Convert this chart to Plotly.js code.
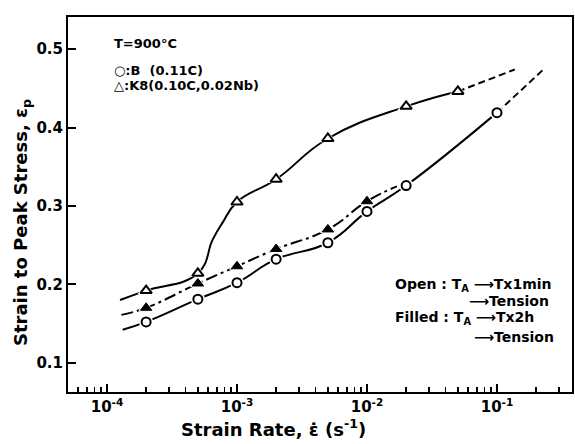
<!DOCTYPE html>
<html>
<head>
<meta charset="utf-8">
<script src="https://cdn.plot.ly/plotly-3.0.1.min.js"></script>
<style>html,body{margin:0;padding:0;background:#fff}#chart{width:575px;height:444px}</style>
</head>
<body>
<div id="chart"></div>
<script>
// ---- data ----
// B (0.11C), open circles: T_A -> T x 1min -> tension
const rateB = [2e-4, 5e-4, 1e-3, 2e-3, 5e-3, 1e-2, 2e-2, 1e-1];
const epsB  = [0.152, 0.181, 0.202, 0.232, 0.253, 0.293, 0.326, 0.419];
// K8 (0.10C,0.02Nb), open triangles: 1 min hold
const rateK8open = [2e-4, 5e-4, 1e-3, 2e-3, 5e-3, 2e-2, 5e-2];
const epsK8open  = [0.192, 0.214, 0.305, 0.334, 0.386, 0.427, 0.446];
// K8, filled triangles: 2 h hold
const rateK8fill = [2e-4, 5e-4, 1e-3, 2e-3, 5e-3, 1e-2];
const epsK8fill  = [0.170, 0.201, 0.223, 0.245, 0.270, 0.306];

// hand-drawn fitting curves (nodes)
const curveK8openX = [1.26e-4, 2e-4, 5e-4, 6.5e-4, 7.7e-4, 1e-3, 2e-3, 5e-3, 2e-2, 5e-2];
const curveK8openY = [0.180, 0.192, 0.214, 0.257, 0.278, 0.305, 0.334, 0.386, 0.427, 0.446];
const extK8openX = [5e-2, 1.37e-1];
const extK8openY = [0.446, 0.474];
const curveBX = [1.32e-4, 2e-4, 5e-4, 1e-3, 2e-3, 5e-3, 1e-2, 2e-2, 1e-1];
const curveBY = [0.142, 0.152, 0.181, 0.202, 0.232, 0.253, 0.293, 0.326, 0.419];
const extBX = [1e-1, 2.34e-1];
const extBY = [0.419, 0.476];
const curveK8fillX = [1.29e-4, 2e-4, 5e-4, 1e-3, 2e-3, 5e-3, 1e-2, 1.7e-2];
const curveK8fillY = [0.161, 0.170, 0.201, 0.223, 0.245, 0.270, 0.306, 0.325];

const yTicks = [0.1, 0.2, 0.3, 0.4, 0.5];
const yTickText = ['0.1', '0.2', '0.3', '0.4', '0.5'];
const xTicks = [1e-4, 1e-3, 1e-2, 1e-1];
const xTickText = ['10<sup>-4</sup>', '10<sup>-3</sup>', '10<sup>-2</sup>', '10<sup>-1</sup>'];

// minor tick positions (2..9 x decade)
const xMinor = [];
for (let e = -5; e <= 0; e++) for (let m = 2; m <= 9; m++) xMinor.push(m * Math.pow(10, e));

const FONT = 'DejaVu Sans, sans-serif';
const lw = 2;
const sm = 1.3;
const traces = [
  {x: curveK8openX, y: curveK8openY, mode: 'lines', line: {color: '#000', width: lw, shape: 'spline', smoothing: sm}, hoverinfo: 'skip'},
  {x: extK8openX, y: extK8openY, mode: 'lines', line: {color: '#000', width: lw, dash: '7px,4px'}, hoverinfo: 'skip'},
  {x: curveBX, y: curveBY, mode: 'lines', line: {color: '#000', width: lw, shape: 'spline', smoothing: sm}, hoverinfo: 'skip'},
  {x: extBX, y: extBY, mode: 'lines', line: {color: '#000', width: lw, dash: '7px,4px'}, hoverinfo: 'skip'},
  {x: curveK8fillX, y: curveK8fillY, mode: 'lines', line: {color: '#000', width: lw, shape: 'spline', smoothing: sm, dash: '12px,4px,3px,4px'}, hoverinfo: 'skip'},
  // white halos so the curves stop short of the symbols
  {x: rateB, y: epsB, mode: 'markers', marker: {symbol: 'circle', size: 14, color: '#fff'}, hoverinfo: 'skip'},
  {x: rateK8open, y: epsK8open, mode: 'markers', marker: {symbol: 'triangle-up', size: 15, color: '#fff'}, hoverinfo: 'skip'},
  {x: rateK8fill, y: epsK8fill, mode: 'markers', marker: {symbol: 'triangle-up', size: 14, color: '#fff'}, hoverinfo: 'skip'},
  // symbols
  {x: rateB, y: epsB, mode: 'markers', name: 'B (0.11C)', marker: {symbol: 'circle', size: 9, color: '#fff', line: {color: '#000', width: 2}}},
  {x: rateK8open, y: epsK8open, mode: 'markers', name: 'K8 1min', marker: {symbol: 'triangle-up', size: 10, color: '#fff', line: {color: '#000', width: 2}}},
  {x: rateK8fill, y: epsK8fill, mode: 'markers', name: 'K8 2h', marker: {symbol: 'triangle-up', size: 10, color: '#000', line: {color: '#000', width: 1}}}
];

const W = 504, H = 375, L = 68, T = 17;
function px(x) { return (x - L) / W; }
function py(y) { return (T + H - y) / H; }
function ann(text, x, y, size, extra) {
  return Object.assign({text: text, xref: 'paper', yref: 'paper', x: px(x), y: py(y), xanchor: 'left', yanchor: 'middle', showarrow: false,
    font: {family: FONT, size: size, color: '#000', weight: 'bold'}}, extra || {});
}

const layout = {
  width: 575, height: 444,
  margin: {l: L, r: 575 - L - W, t: T, b: 444 - T - H},
  paper_bgcolor: '#fff', plot_bgcolor: '#fff',
  showlegend: false,
  font: {family: FONT, color: '#000'},
  xaxis: {
    type: 'log', range: [-4.30, -0.423], tickmode: 'array', tickvals: xTicks, ticktext: xTickText,
    ticks: 'inside', ticklen: 8, tickwidth: 2, tickcolor: '#000',
    minor: {tickmode: 'array', tickvals: xMinor, ticks: 'inside', ticklen: 5, tickwidth: 1.5, tickcolor: '#000'},
    showline: true, linewidth: 2, linecolor: '#000', mirror: true, showgrid: false, zeroline: false,
    tickfont: {family: FONT, size: 15, color: '#000', weight: 'bold'}
  },
  yaxis: {
    range: [0.0626, 0.541], tickmode: 'array', tickvals: yTicks, ticktext: yTickText,
    ticks: 'inside', ticklen: 8, tickwidth: 2, tickcolor: '#000',
    showline: true, linewidth: 2, linecolor: '#000', mirror: true, showgrid: false, zeroline: false,
    tickfont: {family: FONT, size: 15, color: '#000', weight: 'bold'}
  },
  annotations: [
    ann('T=900°C', 112, 43, 13),
    ann('○:B  (0.11C)', 112, 70, 13),
    ann('△:K8(0.10C,0.02Nb)', 112, 85, 13),
    ann('Open : T<sub>A</sub> ⟶Tx1min', 393, 285, 14),
    ann('⟶Tension', 467, 301, 14),
    ann('Filled : T<sub>A</sub> ⟶Tx2h', 393, 318, 14),
    ann('⟶Tension', 472, 337, 14),
    ann('Strain Rate, ε̇ (s<sup>-1</sup>)', 273, 428, 18, {xanchor: 'center'}),
    ann('Strain to Peak Stress, ε<sub>p</sub>', 22, 223, 18, {xanchor: 'center', textangle: -90})
  ]
};

Plotly.newPlot('chart', traces, layout, {staticPlot: true, displayModeBar: false});
</script>
</body>
</html>
